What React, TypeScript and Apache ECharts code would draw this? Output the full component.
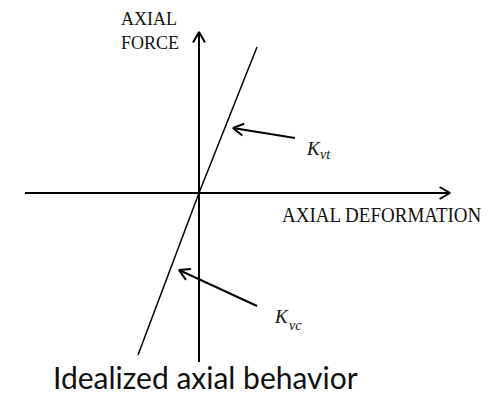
import React, { useEffect, useRef } from "react";
import * as echarts from "echarts";

// Data coordinates: 1 unit = 10 px, origin at the axes crossing
const X_AXIS_EXTENT = [-17.4, 25.1]; // axial deformation axis
const Y_AXIS_EXTENT = [-16.9, 16.1]; // axial force axis
const TENSION_LINE = [
  [0, 0],
  [5.8, 14.6],
];
const COMPRESSION_LINE = [
  [0, 0],
  [-6.1, -16.2],
];
const KVT_ARROW = [
  [9.6, 5.5],
  [3.4, 6.5],
];
const KVC_ARROW = [
  [5.8, -11.3],
  [-2.0, -7.7],
];

const AXIS_FORCE_LABEL = ["AXIAL", "FORCE"];
const AXIS_DEFORMATION_LABEL = "AXIAL DEFORMATION";
const TITLE = "Idealized axial behavior";

function chevron(from: number[], to: number[], len = 1.2, ang = Math.PI / 6) {
  const a = Math.atan2(to[1] - from[1], to[0] - from[0]) + Math.PI;
  return [
    [to[0] + len * Math.cos(a + ang), to[1] + len * Math.sin(a + ang)],
    to,
    [to[0] + len * Math.cos(a - ang), to[1] + len * Math.sin(a - ang)],
  ];
}

function seg(data: number[][], width: number) {
  return {
    type: "line",
    data,
    showSymbol: false,
    silent: true,
    lineStyle: { color: "#000", width },
  };
}

export default function App() {
  const ref = useRef<HTMLDivElement>(null);
  useEffect(() => {
    if (!ref.current) return;
    const chart = echarts.init(ref.current, undefined, { renderer: "svg" });
    const hAxis = [
      [X_AXIS_EXTENT[0], 0],
      [X_AXIS_EXTENT[1], 0],
    ];
    const vAxis = [
      [0, Y_AXIS_EXTENT[0]],
      [0, Y_AXIS_EXTENT[1]],
    ];
    const serif = "'Liberation Serif', 'DejaVu Serif', serif";
    const txt = (x: number, y: number, text: string, font: string, sy = 1) => ({
      type: "text",
      x,
      y,
      scaleY: sy,
      style: { text, font, fill: "#111", verticalAlign: "middle" },
    });
    chart.setOption({
      animation: false,
      backgroundColor: "#fff",
      grid: { left: 0, right: 0, top: 0, bottom: 0 },
      xAxis: { type: "value", min: -19.9, max: 30, show: false },
      yAxis: { type: "value", min: -20.1, max: 19.3, show: false },
      series: [
        seg(hAxis, 2),
        seg(chevron(hAxis[0], hAxis[1]), 2),
        seg(vAxis, 2),
        seg(chevron(vAxis[0], vAxis[1]), 2),
        seg(TENSION_LINE, 1.5),
        seg(COMPRESSION_LINE, 1.5),
        seg(KVT_ARROW, 2),
        seg(chevron(KVT_ARROW[0], KVT_ARROW[1]), 2),
        seg(KVC_ARROW, 2),
        seg(chevron(KVC_ARROW[0], KVC_ARROW[1]), 2),
      ],
      graphic: [
        txt(121, 18.5, AXIS_FORCE_LABEL[0], `18px ${serif}`, 1.1),
        txt(121, 42, AXIS_FORCE_LABEL[1], `18px ${serif}`, 1.1),
        txt(282, 214.5, AXIS_DEFORMATION_LABEL, `19px ${serif}`, 1.15),
        txt(307, 148.5, "K", `italic 19px ${serif}`),
        txt(320, 154, "vt", `italic 14px ${serif}`),
        txt(275, 316, "K", `italic 19px ${serif}`),
        txt(289, 325, "vc", `italic 14px ${serif}`),
        txt(53, 377, TITLE, "30px Lato, 'Open Sans', sans-serif"),
      ],
    });
    return () => chart.dispose();
  }, []);
  return <div ref={ref} style={{ position: "fixed", left: 0, top: 0, width: 499, height: 394 }} />;
}
